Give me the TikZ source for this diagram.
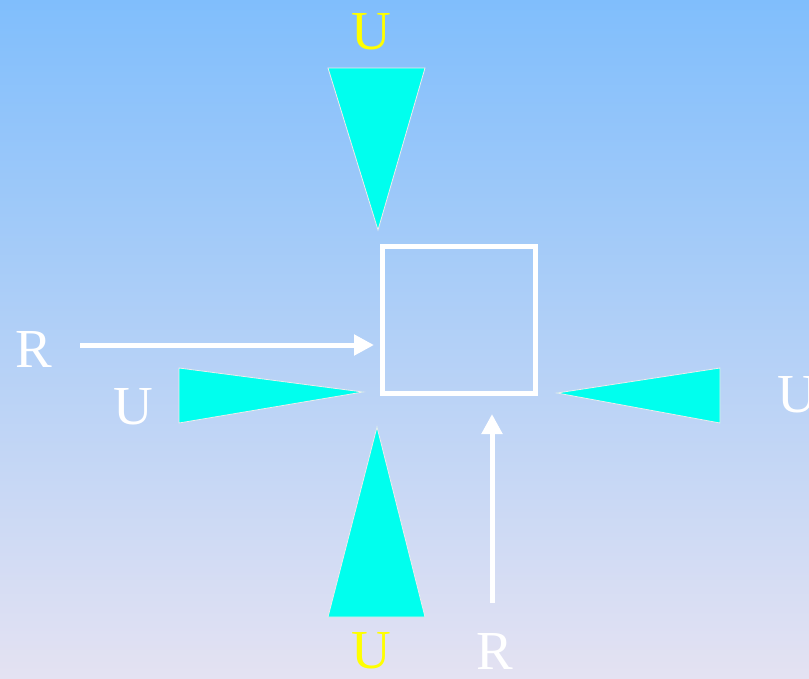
\documentclass[tikz,border=0pt]{standalone}
\usepackage{fontspec}
\setmainfont{Liberation Serif}
\usetikzlibrary{arrows.meta}
\definecolor{bgtop}{RGB}{128,190,252}
\definecolor{bgbot}{RGB}{228,226,242}
\definecolor{tri}{RGB}{0,255,238}
\definecolor{lbl}{RGB}{255,255,0}
\tikzset{
  tribox/.style={fill=tri, draw=white!85!gray, line width=0.8pt, line join=miter},
  warrow/.style={draw=white, line width=5pt, -{Triangle[length=20pt,width=20pt]}},
  lab/.style={font=\fontsize{55}{55}\selectfont, text=white, inner sep=0pt},
  ylab/.style={lab, text=lbl},
}
\begin{document}
\begin{tikzpicture}[x=1pt,y=-1pt]
\clip (0,0) rectangle (809,678);
\shade[top color=bgtop, bottom color=bgbot] (0,0) rectangle (809,678);
% square
\node[draw=white, line width=5pt, minimum width=153pt, minimum height=147pt, inner sep=0pt] (box) at (459,320) {};
% triangles
\draw[tribox] (328,68) -- (425,68) -- (378,230) -- cycle;
\draw[tribox] (328,617) -- (425,617) -- (377,427) -- cycle;
\draw[tribox] (179,368) -- (179,423) -- (363,392) -- cycle;
\draw[tribox] (720,368) -- (720,423) -- (557,393) -- cycle;
% arrows
\coordinate (rs) at (80,345);
\coordinate (re) at (374,345);
\coordinate (rb) at (492,603);
\coordinate (rt) at (492,414);
\draw[warrow] (rs) -- (re);
\draw[warrow] (rb) -- (rt);
% labels
\node[ylab] (u1) at (371,32) {U};
\node[lab] (r1) at (34,349) {R};
\node[lab] (u2) at (133,407) {U};
\node[lab] (u3) at (797,395) {U};
\node[ylab] (u4) at (371,651) {U};
\node[lab] (r2) at (495,651) {R};
\end{tikzpicture}
\end{document}
